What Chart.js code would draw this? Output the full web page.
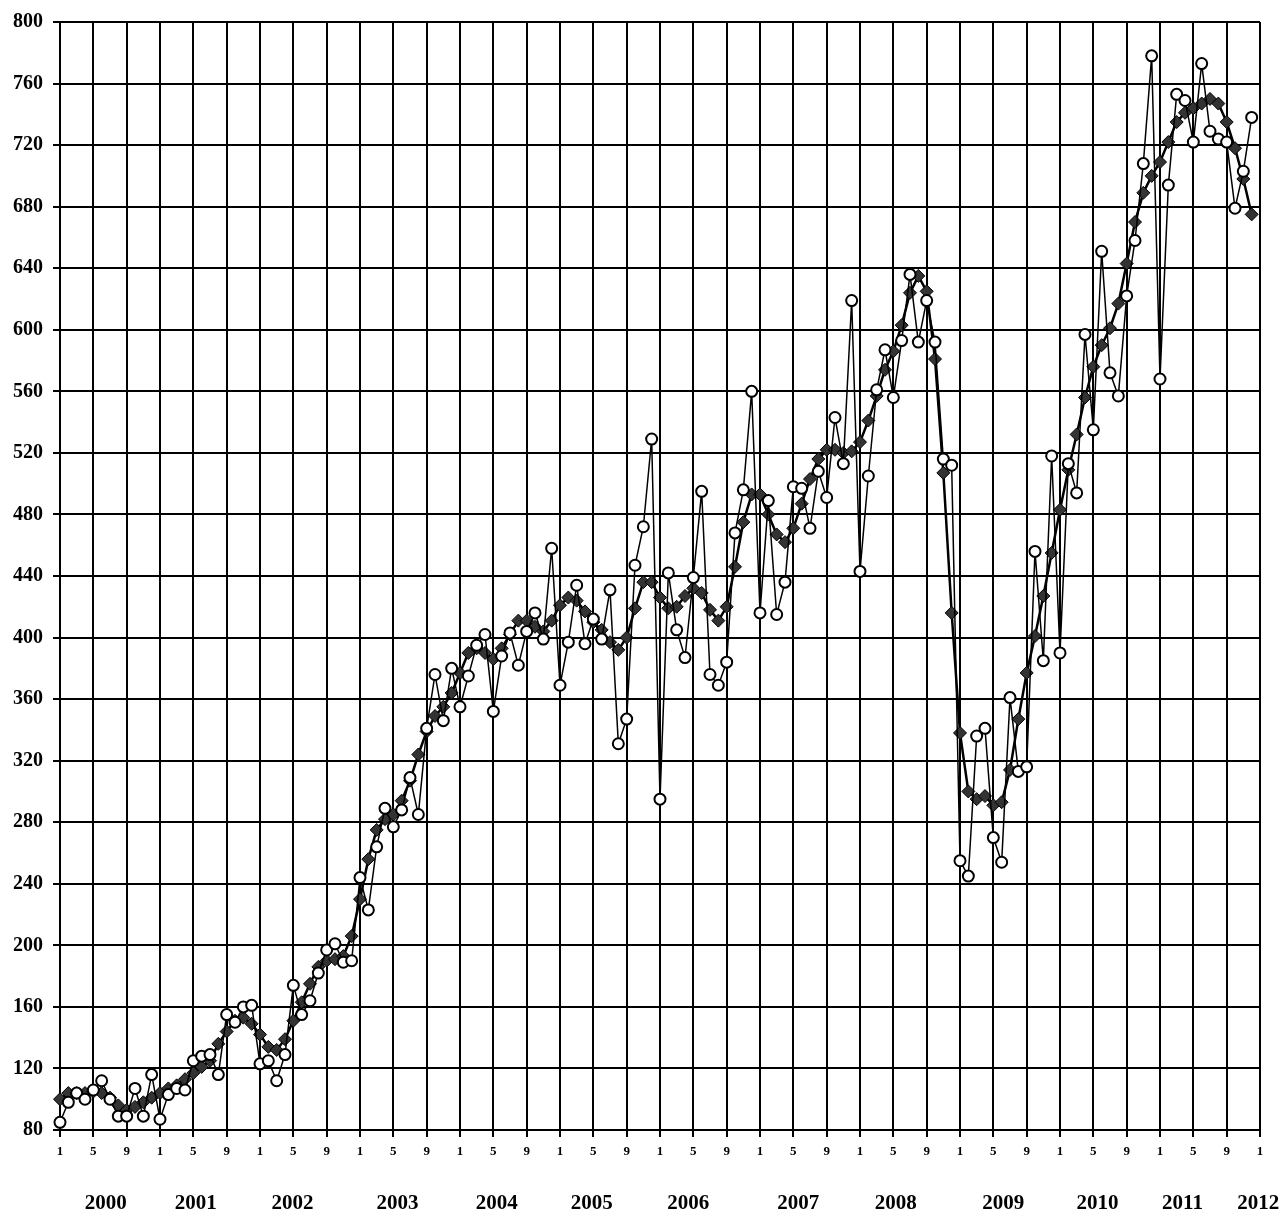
<!DOCTYPE html>
<html>
<head>
<meta charset="utf-8">
<script src="https://cdn.jsdelivr.net/npm/chart.js@4/dist/chart.umd.min.js"></script>
<style>
  html, body { margin: 0; padding: 0; background: #fff; }
  #wrap { width: 1285px; height: 1216px; position: relative; }
</style>
</head>
<body>
<div id="wrap"><canvas id="priceChart"></canvas></div>
<script>
// Monthly values, Jan 2000 .. Dec 2011
const monthly = [
  85, 98, 104, 100, 106, 112, 100, 89, 89, 107, 89, 116,
  87, 103, 107, 106, 125, 128, 129, 116, 155, 150, 160, 161,
  123, 125, 112, 129, 174, 155, 164, 182, 197, 201, 189, 190,
  244, 223, 264, 289, 277, 288, 309, 285, 341, 376, 346, 380,
  355, 375, 395, 402, 352, 388, 403, 382, 404, 416, 399, 458,
  369, 397, 434, 396, 412, 399, 431, 331, 347, 447, 472, 529,
  295, 442, 405, 387, 439, 495, 376, 369, 384, 468, 496, 560,
  416, 489, 415, 436, 498, 497, 471, 508, 491, 543, 513, 619,
  443, 505, 561, 587, 556, 593, 636, 592, 619, 592, 516, 512,
  255, 245, 336, 341, 270, 254, 361, 313, 316, 456, 385, 518,
  390, 513, 494, 597, 535, 651, 572, 557, 622, 658, 708, 778,
  568, 694, 753, 749, 722, 773, 729, 724, 722, 679, 703, 738
];

// Smoothed trend
const trend = [
  100, 104, 104, 104, 105, 104, 101, 96, 93, 95, 98, 101,
  104, 107, 109, 113, 117, 121, 125, 136, 144, 151, 153, 149,
  142, 134, 132, 139, 151, 163, 175, 186, 190, 191, 193, 206,
  230, 256, 275, 282, 285, 294, 307, 324, 339, 349, 355, 364,
  377, 390, 393, 390, 386, 393, 402, 411, 411, 407, 404, 411,
  421, 426, 424, 417, 410, 405, 397, 392, 400, 419, 436, 436,
  426, 419, 420, 427, 432, 429, 418, 411, 420, 446, 475, 493,
  493, 480, 467, 462, 471, 487, 503, 516, 522, 522, 520, 521,
  527, 541, 557, 574, 586, 603, 624, 635, 625, 581, 507, 416,
  338, 300, 295, 297, 291, 293, 314, 347, 377, 401, 427, 455,
  483, 509, 532, 556, 576, 590, 601, 617, 643, 670, 689, 700,
  709, 722, 735, 741, 744, 747, 750, 747, 735, 718, 698, 675
];

const years = ['2000', '2001', '2002', '2003', '2004', '2005', '2006',
               '2007', '2008', '2009', '2010', '2011', '2012'];
// where each year caption sits, in months from Jan 2000
const yearPos = [5.5, 16.3, 27.9, 40.5, 52.4, 63.8, 75.4, 88.6, 100.3, 113.2, 124.5, 134.7, 143.8];

const yMin = 80, yMax = 800, yStep = 40;
const FONT = "'Liberation Serif', 'Times New Roman', serif";

// month number for every category, Jan 2000 .. Jan 2012
const monthLabels = [];
for (let i = 0; i <= 144; i++) monthLabels.push(String((i % 12) + 1));

const gridEvery4 = (ctx) => (ctx.index % 4 === 0 ? '#000' : 'rgba(0,0,0,0)');

const yearCaptions = {
  id: 'yearCaptions',
  afterDraw(chart) {
    const ctx = chart.ctx;
    const x = chart.scales.x;
    ctx.save();
    ctx.font = 'bold 21px ' + FONT;
    ctx.fillStyle = '#000';
    ctx.textAlign = 'center';
    ctx.textBaseline = 'middle';
    years.forEach((yr, k) => {
      ctx.fillText(yr, x.getPixelForValue(yearPos[k]), 1204);
    });
    ctx.restore();
  }
};

new Chart(document.getElementById('priceChart'), {
  type: 'line',
  data: {
    labels: monthLabels,
    datasets: [
      {
        label: 'monthly',
        data: monthly,
        borderColor: '#000',
        borderWidth: 1.5,
        pointStyle: 'circle',
        pointRadius: 5.5,
        pointBorderWidth: 2,
        pointBackgroundColor: '#fff',
        pointBorderColor: '#000',
        tension: 0
      },
      {
        label: 'trend',
        data: trend,
        borderColor: '#000',
        borderWidth: 2.5,
        pointStyle: 'rectRot',
        pointRadius: 6.5,
        pointBorderWidth: 1,
        pointBackgroundColor: '#333',
        pointBorderColor: '#000',
        tension: 0
      }
    ]
  },
  options: {
    responsive: true,
    maintainAspectRatio: false,
    animation: false,
    layout: { padding: { top: 20, right: 25, left: 0, bottom: 0 } },
    plugins: { legend: { display: false }, tooltip: { enabled: false } },
    scales: {
      x: {
        type: 'category',
        offset: false,
        border: { display: true, color: '#000', width: 2 },
        grid: { color: gridEvery4, tickColor: gridEvery4, lineWidth: 2, tickLength: 7 },
        ticks: {
          autoSkip: false,
          maxRotation: 0,
          minRotation: 0,
          padding: 7,
          color: '#000',
          font: { family: FONT, size: 13, weight: 'bold' },
          callback: (v, i) => (i % 4 === 0 ? monthLabels[i] : '')
        },
        afterFit: (scale) => { scale.height = 86; }
      },
      y: {
        min: yMin,
        max: yMax,
        border: { display: true, color: '#000', width: 2 },
        grid: { color: '#000', lineWidth: 2, tickLength: 7 },
        ticks: {
          stepSize: yStep,
          padding: 10,
          color: '#000',
          font: { family: FONT, size: 20, weight: 'bold' }
        },
        afterFit: (scale) => { scale.width = 60; }
      }
    }
  },
  plugins: [yearCaptions]
});
</script>
</body>
</html>
